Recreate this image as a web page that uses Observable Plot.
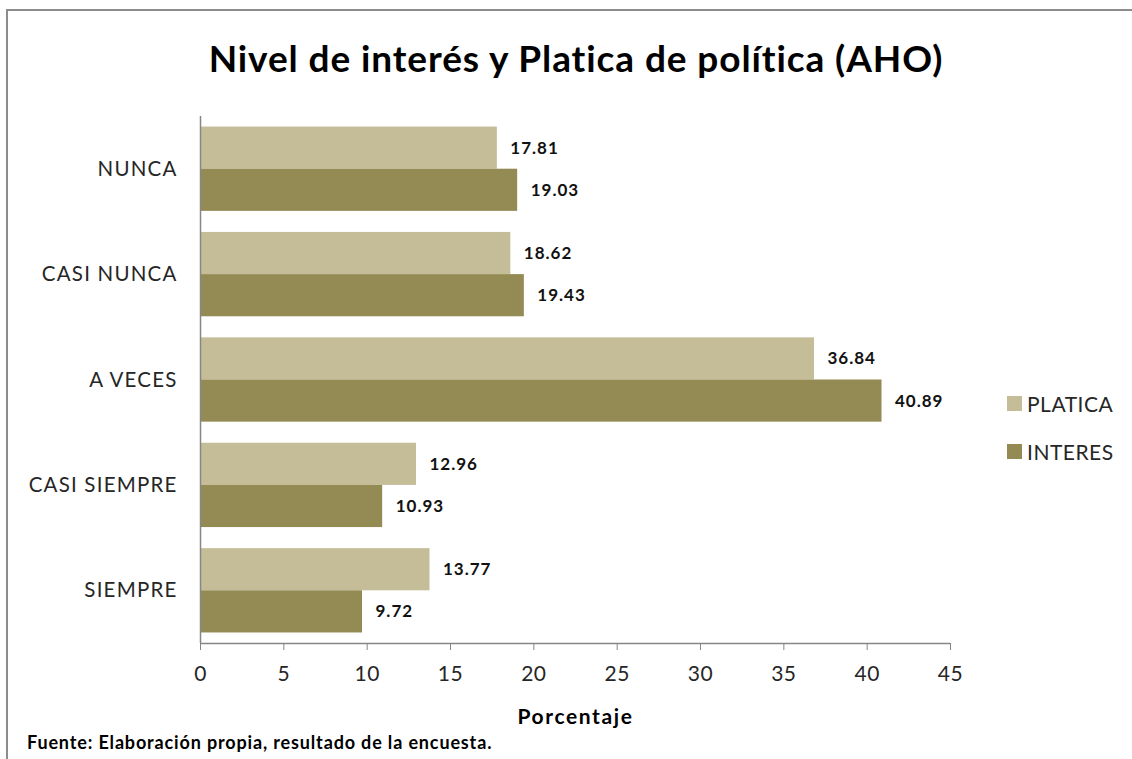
<!DOCTYPE html>
<html>
<head>
<meta charset="utf-8">
<script src="https://cdn.jsdelivr.net/npm/d3@7"></script>
<script src="https://cdn.jsdelivr.net/npm/@observablehq/plot@0.6"></script>
<style>
  body { margin: 0; background: #fff; }
  #wrap { position: relative; width: 1132px; height: 759px; overflow: hidden; font-family: Lato, "Open Sans", sans-serif; }
  #frame { position: absolute; left: 6px; top: 9px; width: 1200px; height: 900px; border-left: 2px solid #8c8c8c; border-top: 2px solid #8c8c8c; }
  #title { position: absolute; left: 0; width: 1152px; top: 35px; text-align: center; font-weight: bold; font-size: 37px; letter-spacing: 0.9px; color: #000; white-space: nowrap; }
  #legend { position: absolute; left: 1007px; top: 390px; font-size: 21px; letter-spacing: 0.5px; color: #262626; }
  .li { display: flex; align-items: center; height: 26px; margin-bottom: 22px; }
  .sw { width: 15px; height: 15px; margin-right: 5px; }
  #foot { position: absolute; left: 27px; top: 731px; font-size: 18px; letter-spacing: 0.85px; font-weight: bold; color: #000; white-space: nowrap; }
  #chart { position: absolute; left: 0; top: 0; }
  #err { position: absolute; left: 250px; top: 200px; color: red; font-size: 12px; white-space: pre; }
  [aria-label="x-axis label"] text { font-weight: bold; font-size: 21px; letter-spacing: 1.6px; fill: #000; }
  [aria-label="y-axis tick label"] text { letter-spacing: 1.2px; }
  [aria-label="x-axis tick label"] text { letter-spacing: 0.5px; }
  [aria-label="text"] text { letter-spacing: 1px; }
</style>
</head>
<body>
<div id="wrap">
  <div id="frame"></div>
  <div id="chart"></div>
  <div id="title">Nivel de interés y Platica de política (AHO)</div>
  <div id="legend"></div>
  <div id="foot">Fuente: Elaboración propia, resultado de la encuesta.</div>
  <div id="err"></div>
</div>
<script>
const categories = ["NUNCA", "CASI NUNCA", "A VECES", "CASI SIEMPRE", "SIEMPRE"];
const seriesNames = ["PLATICA", "INTERES"];
const platica = [17.81, 18.62, 36.84, 12.96, 13.77];
const interes = [19.03, 19.43, 40.89, 10.93, 9.72];
const colors = ["#C4BD97", "#948A54"];
const xTicks = [0, 5, 10, 15, 20, 25, 30, 35, 40, 45];

const errBox = document.getElementById("err");
const origWarn = console.warn;
console.warn = (...a) => { errBox.textContent += a.join(" ") + "\n"; origWarn(...a); };

try {
  const rows = [];
  categories.forEach((c, i) => {
    rows.push({cat: c, i, series: "PLATICA", value: platica[i], y1: i - 0.4, y2: i, ym: i - 0.2});
    rows.push({cat: c, i, series: "INTERES", value: interes[i], y1: i, y2: i + 0.4, ym: i + 0.2});
  });

  const chart = Plot.plot({
    width: 1132,
    height: 759,
    marginLeft: 200,
    marginRight: 182,
    marginTop: 116,
    marginBottom: 116,
    style: {background: "transparent", fontFamily: "Lato, 'Open Sans', sans-serif", color: "#262626"},
    x: {domain: [0, 45]},
    y: {domain: [-0.5, categories.length - 0.5], reverse: true},
    color: {domain: seriesNames, range: colors},
    marks: [
      Plot.rect(rows, {x1: 0, x2: "value", y1: "y1", y2: "y2", fill: "series"}),
      Plot.text(rows, {x: "value", y: "ym", text: d => d.value.toFixed(2), textAnchor: "start", dx: 13,
        fontFamily: "Lato, sans-serif", fontWeight: "bold", fontSize: 17, fill: "#111"}),
      Plot.ruleX([0], {stroke: "#868686", strokeWidth: 1.5}),
      Plot.ruleY([categories.length - 0.5], {stroke: "#868686", strokeWidth: 1.5}),
      Plot.axisY({ticks: [0, 1, 2, 3, 4], tickFormat: i => categories[i], tickSize: 0, tickPadding: 23,
        fontSize: 20.5, label: null}),
      Plot.axisX({ticks: xTicks, tickSize: 7, tickPadding: 16, fontSize: 21, stroke: "#868686",
        label: "Porcentaje", labelAnchor: "center", labelOffset: 80, labelArrow: "none"})
    ]
  });
  document.getElementById("chart").appendChild(chart);
} catch (e) {
  errBox.textContent += String(e && e.stack || e);
}

const legend = document.getElementById("legend");
seriesNames.forEach((s, k) => {
  const row = document.createElement("div");
  row.className = "li";
  row.innerHTML = `<div class="sw" style="background:${colors[k]}"></div><span>${s}</span>`;
  legend.appendChild(row);
});
</script>
</body>
</html>
